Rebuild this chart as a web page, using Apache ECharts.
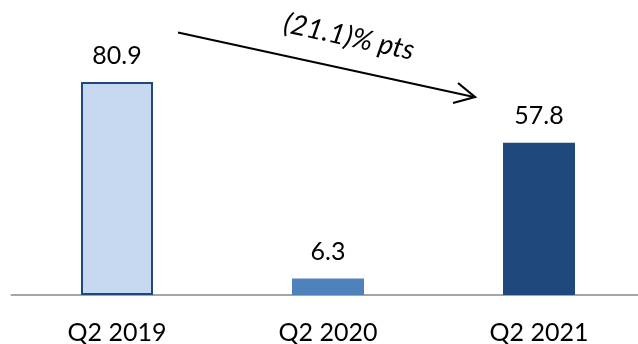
<!DOCTYPE html>
<html>
<head>
<meta charset="utf-8">
<script src="https://cdn.jsdelivr.net/npm/echarts@6/dist/echarts.min.js"></script>
<style>
  html, body { margin: 0; padding: 0; background: #fff; }
  #chart { width: 638px; height: 344px; }
</style>
</head>
<body>
<div id="chart"></div>
<script>
// Quarterly values
const quarters = ['Q2 2019', 'Q2 2020', 'Q2 2021'];
const values = [80.9, 6.3, 57.8];
const changeLabel = '(21.1)% pts';

const barStyles = [
  { color: '#c6d9f1', borderColor: '#1f497d', borderWidth: 2 },
  { color: '#4f81bd' },
  { color: '#1f497d' }
];

const font = 'Lato, "Open Sans", sans-serif';

const chart = echarts.init(document.getElementById('chart'), null, { renderer: 'canvas' });

chart.setOption({
  animation: false,
  grid: {
    left: 11.5, width: 633, top: 31.7, bottom: 49,
    containLabel: false,
    outerBoundsMode: 'none'
  },
  xAxis: {
    type: 'category',
    data: quarters,
    axisLine: { lineStyle: { color: '#a6a6a6', width: 2 } },
    axisTick: { show: false },
    axisLabel: { color: '#000', fontSize: 25, fontFamily: font, margin: 25 }
  },
  yAxis: {
    type: 'value',
    min: 0,
    max: 100,
    show: false,
    splitLine: { show: false }
  },
  series: [{
    type: 'bar',
    barWidth: 72,
    data: values.map((v, i) => ({ value: v, itemStyle: barStyles[i] })),
    label: {
      show: true,
      position: 'top',
      distance: 14,
      color: '#000',
      fontSize: 25,
      fontFamily: font,
      formatter: p => p.value.toFixed(1)
    }
  }],
  graphic: [
    {
      type: 'line',
      shape: { x1: 178, y1: 32.5, x2: 474, y2: 97 },
      style: { stroke: '#000', lineWidth: 2.2 }
    },
    {
      type: 'polyline',
      shape: { points: [[458, 83], [475, 97], [453, 103]] },
      style: { stroke: '#000', lineWidth: 2.2, fill: null }
    },
    {
      type: 'text',
      x: 349,
      y: 37,
      rotation: -0.215,
      style: {
        text: changeLabel,
        fontSize: 28,
        fontStyle: 'italic',
        fontFamily: font,
        fill: '#000',
        align: 'center',
        verticalAlign: 'middle'
      }
    }
  ]
});
</script>
</body>
</html>
